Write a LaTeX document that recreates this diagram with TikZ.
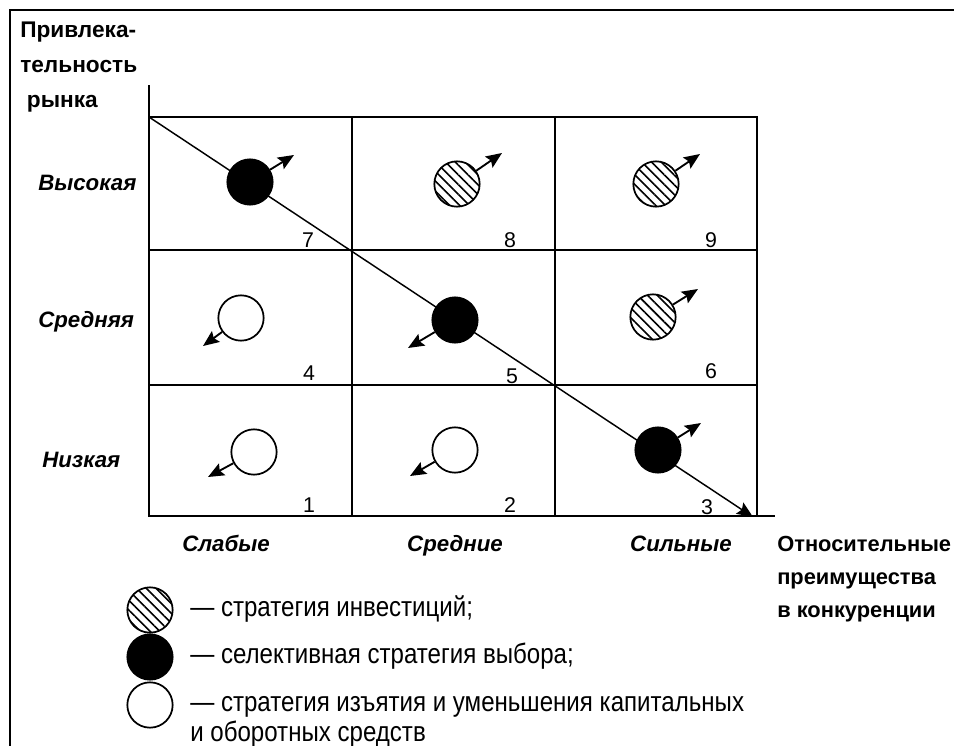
\documentclass[tikz,border=0pt]{standalone}
\usepackage{fontspec}
\setmainfont{Liberation Sans}
\newfontfamily\narrowfont[FakeStretch=0.86]{Liberation Sans}
\usetikzlibrary{arrows.meta,patterns.meta}
\tikzset{
  cadre/.style={line width=1.4pt},
  grille/.style={line width=1.3pt},
  pion/.style={circle,draw,line width=1.3pt,minimum size=34pt,inner sep=0pt},
  cinvest/.style={pion,pattern={Lines[angle=-45,distance=5.2pt,line width=1.2pt]}},
  cselect/.style={pion,fill=black},
  cretrait/.style={pion,fill=white},
  fleche/.style={-{Stealth[length=12pt,width=10pt,inset=2pt]},line width=1.4pt},
  niveau/.style={font=\fontsize{16.7}{20}\selectfont\bfseries\itshape,anchor=base west,inner sep=0pt},
  force/.style={font=\fontsize{16.7}{20}\selectfont\bfseries\itshape,anchor=base,inner sep=0pt},
  titre/.style={font=\fontsize{17}{26}\selectfont\bfseries,anchor=base west,align=left,inner sep=0pt},
  numero/.style={font=\fontsize{16}{18}\selectfont,anchor=base,inner sep=0pt},
  legende/.style={font=\narrowfont\fontsize{21}{22.5}\selectfont,anchor=base west,align=left,inner sep=0pt},
}
\begin{document}
\begin{tikzpicture}[x=0.75pt,y=-0.75pt]
	\useasboundingbox (0,0) rectangle (954,746);
	% le cadre
	\draw[cadre] (10,746) -- (10,10) -- (954,10);
	% les axes
	\coordinate (O) at (149,516);
	\coordinate (haut) at (149,85);
	\coordinate (droite) at (775,516);
	\draw[grille] (haut) -- (O) -- (droite);
	\node[titre] (ty) at (20,107) {Привлека-\\тельность\\\hspace{5pt}рынка};
	\node[titre,font=\fontsize{16.4}{24.5}\selectfont\bfseries] (tx) at (777,617) {Относительные\\преимущества\\в конкуренции};
	% la grille
	\draw[grille] (149,117) rectangle (757,516);
	\foreach \x in {352,555} \draw[grille] (\x,117) -- (\x,516);
	\foreach \y in {250,385} \draw[grille] (149,\y) -- (757,\y);
	% les niveaux
	\node[niveau] (haute) at (38,190) {Высокая};
	\node[niveau] (moyenne) at (38,327) {Средняя};
	\node[niveau] (basse) at (42,467) {Низкая};
	\node[force] (faible) at (226,551) {Слабые};
	\node[force] (moyen) at (455,551) {Средние};
	\node[force] (fort) at (681,551) {Сильные};
	% la diagonale
	\coordinate (d0) at (149,117);
	\coordinate (d1) at (753,517);
	\draw[fleche,line width=1.1pt] (d0) -- (d1);
	% les cases
	\node[cselect] (c7) at (250,182) {};
	\node[cinvest] (c8) at (457,184) {};
	\node[cinvest] (c9) at (656,184) {};
	\node[cretrait] (c4) at (241,318) {};
	\node[cselect] (c5) at (455,320) {};
	\node[cinvest] (c6) at (653,317) {};
	\node[cretrait] (c1) at (254,452) {};
	\node[cretrait] (c2) at (455,450) {};
	\node[cselect] (c3) at (658,450) {};
	\coordinate (t7) at (294,155);
	\coordinate (t8) at (502,153);
	\coordinate (t9) at (700,154);
	\coordinate (t4) at (203,346);
	\coordinate (t5) at (408,348);
	\coordinate (t6) at (698,289);
	\coordinate (t1) at (208,477);
	\coordinate (t2) at (410,476);
	\coordinate (t3) at (701,423);
	\foreach \i in {1,...,9} \draw[fleche] (c\i) -- (t\i);
	% les numeros
	\node[numero] (n7) at (308,247) {7};
	\node[numero] (n8) at (510,247) {8};
	\node[numero] (n9) at (711,247) {9};
	\node[numero] (n4) at (309,380) {4};
	\node[numero] (n5) at (512,383) {5};
	\node[numero] (n6) at (711,378) {6};
	\node[numero] (n1) at (309,512) {1};
	\node[numero] (n2) at (510,512) {2};
	\node[numero] (n3) at (707,514) {3};
	% la legende
	\node[cinvest] (l1) at (150,610) {};
	\node[cselect] (l2) at (150,657) {};
	\node[cretrait] (l3) at (150,705) {};
	\node[legende] (e1) at (190,616) {— стратегия инвестиций;};
	\node[legende] (e2) at (190,663) {— селективная стратегия выбора;};
	\node[legende] (e3) at (190,741) {— стратегия изъятия и уменьшения капитальных\\и оборотных средств};
\end{tikzpicture}
\end{document}
